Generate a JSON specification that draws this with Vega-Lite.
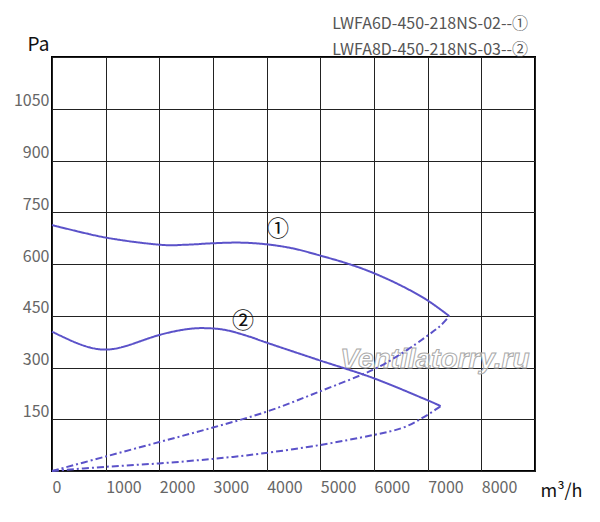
{
  "$schema": "https://vega.github.io/schema/vega-lite/v6.json",
  "autosize": "none",
  "width": 483,
  "height": 414,
  "padding": {"left": 52, "top": 57, "right": 65, "bottom": 51},
  "title": {
    "text": ["LWFA6D-450-218NS-02--①", "LWFA8D-450-218NS-03--②"],
    "anchor": "end",
    "frame": "group",
    "font": "Noto Sans CJK SC",
    "fontSize": 16,
    "fontWeight": "normal",
    "color": "#555555",
    "lineHeight": 26,
    "offset": 0,
    "dy": 23,
    "dx": -7
  },
  "datasets": {
    "curves": [
      {"series": "1", "style": "solid", "q": 0, "p": 713},
      {"series": "1", "style": "solid", "q": 988, "p": 677},
      {"series": "1", "style": "solid", "q": 1994, "p": 656},
      {"series": "1", "style": "solid", "q": 2510, "p": 656},
      {"series": "1", "style": "solid", "q": 2987, "p": 660},
      {"series": "1", "style": "solid", "q": 3503, "p": 662},
      {"series": "1", "style": "solid", "q": 4000, "p": 657},
      {"series": "1", "style": "solid", "q": 4496, "p": 645},
      {"series": "1", "style": "solid", "q": 4962, "p": 626},
      {"series": "1", "style": "solid", "q": 5491, "p": 602},
      {"series": "1", "style": "solid", "q": 5957, "p": 576},
      {"series": "1", "style": "solid", "q": 6484, "p": 539},
      {"series": "1", "style": "solid", "q": 6982, "p": 496},
      {"series": "1", "style": "solid", "q": 7403, "p": 449},
      {"series": "2", "style": "solid", "q": 0, "p": 404},
      {"series": "2", "style": "solid", "q": 397, "p": 375},
      {"series": "2", "style": "solid", "q": 708, "p": 358},
      {"series": "2", "style": "solid", "q": 988, "p": 352},
      {"series": "2", "style": "solid", "q": 1329, "p": 360},
      {"series": "2", "style": "solid", "q": 1994, "p": 394},
      {"series": "2", "style": "solid", "q": 2510, "p": 411},
      {"series": "2", "style": "solid", "q": 2882, "p": 414},
      {"series": "2", "style": "solid", "q": 3255, "p": 408},
      {"series": "2", "style": "solid", "q": 3689, "p": 389},
      {"series": "2", "style": "solid", "q": 4000, "p": 372},
      {"series": "2", "style": "solid", "q": 4962, "p": 322},
      {"series": "2", "style": "solid", "q": 5976, "p": 270},
      {"series": "2", "style": "solid", "q": 6968, "p": 207},
      {"series": "2", "style": "solid", "q": 7242, "p": 188},
      {"series": "1d", "style": "dash", "q": 0, "p": 0},
      {"series": "1d", "style": "dash", "q": 1000, "p": 42},
      {"series": "1d", "style": "dash", "q": 2000, "p": 84},
      {"series": "1d", "style": "dash", "q": 3000, "p": 126},
      {"series": "1d", "style": "dash", "q": 4000, "p": 172},
      {"series": "1d", "style": "dash", "q": 4980, "p": 230},
      {"series": "1d", "style": "dash", "q": 5976, "p": 293},
      {"series": "1d", "style": "dash", "q": 6547, "p": 344},
      {"series": "1d", "style": "dash", "q": 6968, "p": 389},
      {"series": "1d", "style": "dash", "q": 7229, "p": 420},
      {"series": "1d", "style": "dash", "q": 7403, "p": 449},
      {"series": "2d", "style": "dash", "q": 0, "p": 0},
      {"series": "2d", "style": "dash", "q": 988, "p": 12},
      {"series": "2d", "style": "dash", "q": 1994, "p": 22},
      {"series": "2d", "style": "dash", "q": 2987, "p": 35},
      {"series": "2d", "style": "dash", "q": 3876, "p": 50},
      {"series": "2d", "style": "dash", "q": 4980, "p": 75},
      {"series": "2d", "style": "dash", "q": 5976, "p": 104},
      {"series": "2d", "style": "dash", "q": 6547, "p": 126},
      {"series": "2d", "style": "dash", "q": 6968, "p": 160},
      {"series": "2d", "style": "dash", "q": 7167, "p": 180},
      {"series": "2d", "style": "dash", "q": 7242, "p": 188}
    ],
    "marks": [
      {"label": "①", "q": 4211, "p": 701},
      {"label": "②", "q": 3559, "p": 435}
    ],
    "watermark": [
      {"label": "Ventilatorry.ru", "q": 7136, "p": 299}
    ]
  },
  "encoding": {
    "x": {
      "field": "q",
      "type": "quantitative",
      "scale": {"domain": [0, 9000], "nice": false},
      "axis": {
        "values": [0, 1000, 2000, 3000, 4000, 5000, 6000, 7000, 8000, 9000],
        "labelExpr": "datum.value == 9000 ? '' : datum.label",
        "format": "d",
        "labelAlign": "left",
        "labelDx": 3,
        "labelPadding": 8,
        "title": "m³/h",
        "titleX": 488,
        "titleY": 20,
        "titleAlign": "left",
        "titleBaseline": "middle",
        "titleFontSize": 18
      }
    },
    "y": {
      "field": "p",
      "type": "quantitative",
      "scale": {"domain": [0, 1200], "nice": false},
      "axis": {
        "values": [0, 150, 300, 450, 600, 750, 900, 1050, 1200],
        "labelExpr": "datum.value == 0 || datum.value == 1200 ? '' : datum.label",
        "format": "d",
        "labelBaseline": "bottom",
        "labelDy": -5,
        "labelPadding": 3,
        "title": "Pa",
        "titleAngle": 0,
        "titleX": -14,
        "titleY": -13,
        "titleAlign": "center",
        "titleBaseline": "middle",
        "titleFontSize": 19
      }
    }
  },
  "layer": [
    {
      "data": {"name": "watermark"},
      "mark": {
        "type": "text",
        "font": "Liberation Sans",
        "fontSize": 28,
        "fontWeight": "bold",
        "fontStyle": "italic",
        "fill": "#ffffff",
        "fillOpacity": 0.5,
        "stroke": "#aaaaaa",
        "strokeWidth": 1,
        "align": "center",
        "baseline": "alphabetic"
      },
      "encoding": {"text": {"field": "label"}}
    },
    {
      "data": {"name": "curves"},
      "mark": {"type": "line", "color": "#5b52c9", "strokeWidth": 2, "interpolate": "cardinal"},
      "encoding": {
        "detail": {"field": "series"},
        "strokeDash": {
          "field": "style",
          "type": "nominal",
          "scale": {"domain": ["solid", "dash"], "range": [[1, 0], [7, 3, 2, 3]]},
          "legend": null
        }
      }
    },
    {
      "data": {"name": "marks"},
      "mark": {"type": "text", "font": "Noto Sans CJK SC", "fontSize": 22, "color": "#111111"},
      "encoding": {"text": {"field": "label"}}
    }
  ],
  "config": {
    "view": {"stroke": "#000000", "strokeWidth": 2},
    "axis": {
      "grid": true,
      "gridColor": "#222222",
      "gridWidth": 1,
      "gridOpacity": 1,
      "ticks": false,
      "domain": false,
      "labelFont": "Noto Sans CJK SC",
      "labelFontSize": 16,
      "labelColor": "#666666",
      "titleFont": "Noto Sans CJK SC",
      "titleFontWeight": "normal",
      "titleColor": "#111111"
    }
  }
}
